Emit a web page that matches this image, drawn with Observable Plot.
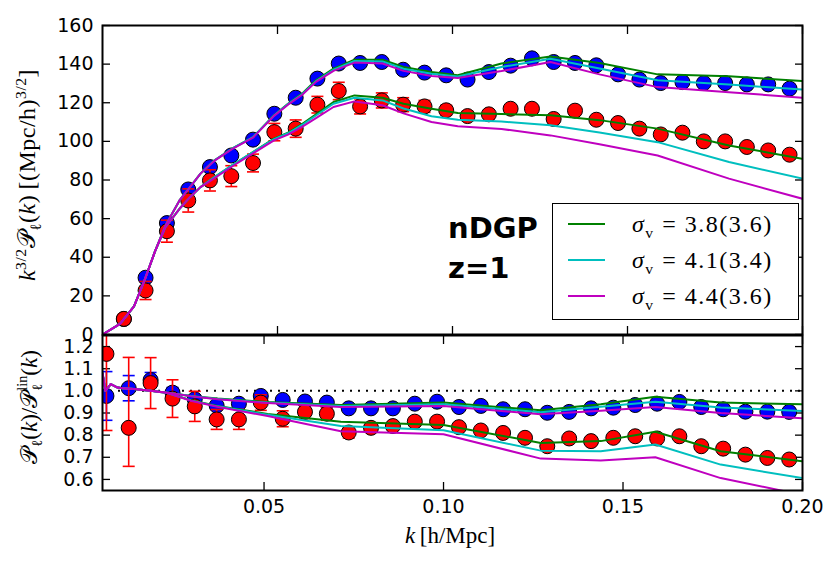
<!DOCTYPE html>
<html><head><meta charset="utf-8">
<script src="https://cdn.jsdelivr.net/npm/d3@7"></script>
<script src="https://cdn.jsdelivr.net/npm/@observablehq/plot@0.6"></script>
<style>
body{margin:0;background:#fff;}
#wrap{position:relative;width:839px;height:569px;overflow:hidden;background:#fff;}
#wrap svg{position:absolute;left:0;}
.lbl{position:absolute;font-family:"Liberation Serif","DejaVu Serif",serif;white-space:nowrap;color:#000;line-height:1;}
.rot{transform:translate(-50%,-50%) rotate(-90deg);}
.ss{display:inline-block;vertical-align:-0.35em;font-size:0.62em;line-height:1.05;text-align:left;}
.ss span{display:block;}
</style></head><body>
<div id="wrap"></div>
<script>
// ---------- data ----------
const kPts = [0.0061,0.0123,0.0184,0.0245,0.0307,0.0368,0.0430,0.0491,0.0552,0.0614,0.0675,0.0736,0.0798,0.0859,0.0920,0.0982,0.1043,0.1104,0.1166,0.1227,0.1289,0.1350,0.1411,0.1473,0.1534,0.1595,0.1657,0.1718,0.1779,0.1841,0.1902,0.1963];

const topBlue = [8.0,29.4,57.7,75.1,86.7,92.7,100.9,114.3,122.6,132.5,140.3,140.6,141.1,137.1,135.6,134.2,132.0,135.9,139.2,143.0,141.1,140.6,139.4,134.7,132.0,130.2,130.7,130.2,130.2,129.5,129.5,127.3];
const topBlueErr = [0.9,1.7,2.0,1.7,1.5,1.4,1.3,1.3,1.2,1.2,1.1,1.1,1.0,1.0,1.0,0.9,0.9,0.9,0.9,0.8,0.8,0.8,0.8,0.8,0.7,0.7,0.7,0.7,0.7,0.7,0.6,0.6];
const topRed = [8.1,22.8,53.5,69.4,79.8,82.0,88.8,104.8,106.6,119.0,126.1,118.1,121.2,119.0,118.1,116.1,113.1,114.0,116.9,116.9,111.6,115.9,111.2,109.5,106.6,103.6,104.5,100.0,100.0,97.1,95.3,93.1];
const topRedErr = [2.6,4.7,5.7,6.0,5.5,5.4,4.6,4.5,4.5,4.3,4.5,3.9,3.9,3.6,3.1,2.6,2.4,2.2,2.0,1.9,1.8,1.7,1.6,1.5,1.4,1.3,1.3,1.2,1.2,1.1,1.1,1.0];

const ratioBlue = [0.977,1.012,1.049,0.992,0.962,0.933,0.942,0.977,0.959,0.952,0.947,0.921,0.921,0.921,0.942,0.951,0.927,0.932,0.917,0.917,0.901,0.905,0.921,0.924,0.936,0.942,0.950,0.927,0.917,0.906,0.906,0.905];
const ratioBlueErr = [0.11,0.057,0.034,0.023,0.018,0.015,0.013,0.012,0.011,0.010,0.010,0.009,0.009,0.008,0.008,0.008,0.007,0.007,0.007,0.007,0.006,0.006,0.006,0.006,0.006,0.006,0.005,0.005,0.005,0.005,0.005,0.005];
const ratioRed = [1.167,0.833,1.035,0.965,0.930,0.871,0.871,0.947,0.874,0.905,0.897,0.812,0.833,0.841,0.861,0.861,0.836,0.821,0.810,0.788,0.750,0.785,0.773,0.788,0.795,0.785,0.795,0.750,0.739,0.712,0.697,0.690];
const ratioRedErrLo = [0.346,0.174,0.115,0.085,0.068,0.045,0.045,0.035,0.036,0.030,0.030,0.025,0.020,0.018,0.016,0.015,0.014,0.013,0.012,0.011,0.011,0.010,0.010,0.010,0.009,0.009,0.009,0.008,0.008,0.008,0.008,0.008];
const ratioRedErrHi = [0.346,0.318,0.115,0.085,0.068,0.045,0.045,0.035,0.036,0.030,0.030,0.025,0.020,0.018,0.016,0.015,0.014,0.013,0.012,0.011,0.011,0.010,0.010,0.010,0.009,0.009,0.009,0.008,0.008,0.008,0.008,0.008];

// model curves, upper panel
const kLineTop = [0,0.005,0.009,0.012,0.015,0.018,0.022,0.025,0.028,0.032,0.037,0.043,0.049,0.053,0.057,0.061,0.066,0.072,0.080,0.086,0.094,0.1015,0.114,0.128,0.142,0.1586,0.179,0.2];
const topUpperG = [0,5.5,14.5,28,43,56.5,69.4,76.3,83.3,90.2,96.2,102.2,113.5,119.5,124.7,131.6,137.7,142.3,142.3,138.5,135.9,134.2,140.3,144.0,140.6,134.7,133.7,131.2];
const topUpperC = [0,5.5,14.5,28,43,56.5,69.4,76.3,83.3,90.2,96.2,102.2,113.4,119.3,124.4,131.2,137.1,141.6,141.4,137.6,135.0,133.6,138.5,142.8,137.7,131.6,129.5,126.8];
const topUpperM = [0,5.5,14.5,28,43,56.5,69.4,76.3,83.3,90.0,96.0,101.9,113.2,119.0,124.0,130.8,136.5,140.8,140.3,136.5,133.8,132.8,136.4,141.1,134.7,128.1,125.5,122.6];
const topLowerG = [0,5.5,14.5,28,43,55.6,65.1,71.1,76.3,81.5,87.6,94.5,101.4,104.5,109.0,114.0,120.4,123.8,122.6,119.5,116.9,114.7,114.2,113.5,111.0,106.6,97.9,91.0];
const topLowerC = [0,5.5,14.5,28,43,55.6,65.1,71.1,76.3,81.5,87.6,94.5,101.2,104.2,108.5,113.4,119.5,122.6,121.2,117.0,113.0,111.2,110.3,108.3,104.6,99.6,89.3,80.7];
const topLowerM = [0,5.5,14.5,28,43,55.6,65.1,71.1,76.3,81.0,87.0,93.8,100.5,103.5,107.5,112.0,117.8,120.7,118.7,114.5,110.0,107.8,106.4,103.1,98.5,92.7,80.7,70.3];

// model curves, ratio panel
const kLineBot = [0.005,0.0058,0.0073,0.0092,0.0106,0.0138,0.0184,0.0231,0.0296,0.037,0.051,0.0714,0.1,0.1271,0.1438,0.159,0.1772,0.2];
const botUpperG = [1.08,1.00,1.030,1.015,1.012,1.008,1.000,0.992,0.977,0.965,0.950,0.936,0.947,0.912,0.939,0.973,0.947,0.939];
const botUpperC = [1.08,1.00,1.030,1.015,1.012,1.008,1.000,0.992,0.977,0.963,0.947,0.932,0.940,0.903,0.928,0.951,0.925,0.909];
const botUpperM = [1.08,1.00,1.030,1.015,1.012,1.008,1.000,0.992,0.976,0.962,0.945,0.927,0.932,0.894,0.910,0.927,0.900,0.876];
const botLowerG = [1.08,1.00,1.030,1.015,1.012,1.008,1.000,0.990,0.958,0.932,0.896,0.861,0.846,0.765,0.773,0.815,0.727,0.682];
const botLowerC = [1.08,1.00,1.030,1.015,1.012,1.008,1.000,0.990,0.957,0.930,0.892,0.841,0.822,0.730,0.727,0.758,0.667,0.606];
const botLowerM = [1.08,1.00,1.030,1.015,1.012,1.008,1.000,0.990,0.955,0.928,0.886,0.818,0.804,0.694,0.685,0.700,0.606,0.530];

const legendValues = ["3.8(3.6)","4.1(3.4)","4.4(3.6)"];
const modelColors = ["#008000","#00bfbf","#bf00bf"];
const xTicks = [0.05,0.10,0.15,0.20];
const yTicksTop = [0,20,40,60,80,100,120,140,160];
const yTicksBot = [0.6,0.7,0.8,0.9,1.0,1.1,1.2];
const refLine = [1.0];

// ---------- build ----------
const wrap = document.getElementById("wrap");
const ser = (ks, vs) => ks.map((k, i) => ({k, v: vs[i]}));
const cap = {draw(ctx, size) { const r = Math.sqrt(size / Math.PI); ctx.moveTo(-r, 0); ctx.lineTo(r, 0); }};

function axes(yTicks, labelX, yFmt) {
  const a = [
    Plot.axisY(yTicks, {anchor: "left", tickSize: 0, tickPadding: 9, fontSize: 19, label: null, tickFormat: yFmt}),
    Plot.axisY(yTicks, {anchor: "left", tickSize: -8, strokeWidth: 1.3, tickFormat: () => "", label: null}),
    Plot.axisY(yTicks, {anchor: "right", tickSize: -8, strokeWidth: 1.3, tickFormat: () => "", label: null}),
    Plot.axisX(xTicks, {anchor: "top", tickSize: -8, strokeWidth: 1.3, tickFormat: () => "", label: null}),
    Plot.axisX(xTicks, {anchor: "bottom", tickSize: -8, strokeWidth: 1.3, tickFormat: () => "", label: null})
  ];
  if (labelX) a.push(Plot.axisX(xTicks, {anchor: "bottom", tickSize: 0, tickPadding: 9, fontSize: 19, label: null, tickFormat: d3.format(".2f")}));
  return a;
}

function pointMarks(data, yKey, loKey, hiKey, color) {
  return [
    Plot.ruleX(data, {x: "k", y1: loKey, y2: hiKey, stroke: color, strokeWidth: 1.6, clip: true}),
    Plot.dot(data, {x: "k", y: loKey, r: 6, symbol: cap, stroke: color, strokeWidth: 1.6, fill: "none", clip: true}),
    Plot.dot(data, {x: "k", y: hiKey, r: 6, symbol: cap, stroke: color, strokeWidth: 1.6, fill: "none", clip: true}),
    Plot.dot(data, {x: "k", y: yKey, r: 7.5, fill: color, stroke: "black", strokeWidth: 1, clip: true})
  ];
}

// top panel
const topData = kPts.map((k, i) => ({
  k,
  b: topBlue[i], bl: topBlue[i] - topBlueErr[i], bh: topBlue[i] + topBlueErr[i],
  r: topRed[i], rl: topRed[i] - topRedErr[i], rh: topRed[i] + topRedErr[i]
}));
const topLines = [[topUpperG, topLowerG], [topUpperC, topLowerC], [topUpperM, topLowerM]];
const topPlot = Plot.plot({
  width: 839, height: 335,
  marginLeft: 102, marginRight: 37, marginTop: 25, marginBottom: 1,
  x: {domain: [0, 0.2]},
  y: {domain: [0, 160]},
  style: {fontFamily: "DejaVu Sans", background: "transparent", overflow: "visible", color: "black"},
  marks: [
    ...axes(yTicksTop, false, d3.format("d")),
    ...pointMarks(topData, "b", "bl", "bh", "#0000ff"),
    ...pointMarks(topData, "r", "rl", "rh", "#ff0000"),
    ...topLines.flatMap((pair, j) => pair.map(arr => Plot.line(ser(kLineTop, arr), {x: "k", y: "v", stroke: modelColors[j], strokeWidth: 2, clip: true}))),
    Plot.frame({stroke: "black", strokeWidth: 2})
  ]
});
topPlot.style.top = "0px";

// ratio panel
const botData = kPts.map((k, i) => ({
  k,
  b: ratioBlue[i], bl: ratioBlue[i] - ratioBlueErr[i], bh: ratioBlue[i] + ratioBlueErr[i],
  r: ratioRed[i], rl: ratioRed[i] - ratioRedErrLo[i], rh: ratioRed[i] + ratioRedErrHi[i]
}));
const botLines = [[botUpperG, botLowerG], [botUpperC, botLowerC], [botUpperM, botLowerM]];
const botPlot = Plot.plot({
  width: 839, height: 235,
  marginLeft: 102, marginRight: 37, marginTop: 1, marginBottom: 79,
  x: {domain: [0.005, 0.2]},
  y: {domain: [0.55, 1.25]},
  style: {fontFamily: "DejaVu Sans", background: "transparent", overflow: "visible", color: "black"},
  marks: [
    ...axes(yTicksBot, true, d3.format(".1f")),
    Plot.ruleY(refLine, {stroke: "black", strokeWidth: 2, strokeDasharray: "2,6"}),
    ...pointMarks(botData, "b", "bl", "bh", "#0000ff"),
    ...pointMarks(botData, "r", "rl", "rh", "#ff0000"),
    ...botLines.flatMap((pair, j) => pair.map(arr => Plot.line(ser(kLineBot, arr), {x: "k", y: "v", stroke: modelColors[j], strokeWidth: 2, clip: true}))),
    Plot.frame({stroke: "black", strokeWidth: 2})
  ]
});
botPlot.style.top = "334px";

wrap.appendChild(botPlot);
wrap.appendChild(topPlot);

// labels
function addLabel(html, css, cls) {
  const d = document.createElement("div");
  d.className = "lbl " + (cls || "");
  d.innerHTML = html;
  Object.assign(d.style, css);
  wrap.appendChild(d);
  return d;
}
addLabel('<i>k</i><sup style="font-size:0.65em">3/2</sup>𝒫<sub style="font-size:0.65em">ℓ</sub>(<i>k</i>)&#8201;[(Mpc/h)<sup style="font-size:0.65em">3/2</sup>]',
  {left: "28px", top: "175px", fontSize: "24px", letterSpacing: "0.5px"}, "rot");
addLabel('𝒫<sub style="font-size:0.65em">ℓ</sub>(<i>k</i>)/𝒫<span class="ss"><span>lin</span><span>ℓ</span></span>(<i>k</i>)',
  {left: "30px", top: "407px", fontSize: "23px"}, "rot");
addLabel('<i>k</i>&#8201;[h/Mpc]', {left: "450px", top: "535px", fontSize: "23px", transform: "translate(-50%,-50%)"});

// annotation
addLabel('nDGP', {left: "448px", top: "214px", fontSize: "29px", fontWeight: "bold", fontFamily: "DejaVu Sans"});
addLabel('z=1', {left: "448px", top: "254px", fontSize: "29px", fontWeight: "bold", fontFamily: "DejaVu Sans"});

// legend
const leg = document.createElement("div");
Object.assign(leg.style, {position: "absolute", left: "552px", top: "203px", width: "245px", height: "115px", border: "1.5px solid #000", background: "#fff"});
wrap.appendChild(leg);
legendValues.forEach((v, i) => {
  const y = 224 + i * 36;
  const sw = document.createElement("div");
  Object.assign(sw.style, {position: "absolute", left: "568px", top: (y - 1) + "px", width: "37px", height: "2px", background: modelColors[i]});
  wrap.appendChild(sw);
  addLabel('<i>σ</i><sub style="font-size:0.65em">v</sub> = ' + v, {left: "632px", top: (y - 12) + "px", fontSize: "24px", letterSpacing: "1.5px"});
});
</script>
</body></html>
